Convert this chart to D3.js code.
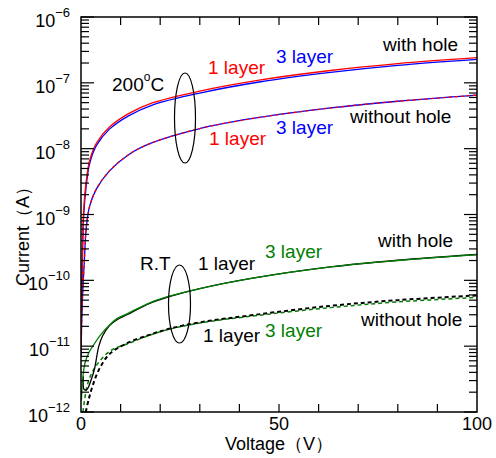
<!DOCTYPE html>
<html>
<head>
<meta charset="utf-8">
<script src="https://cdn.jsdelivr.net/npm/d3@7"></script>
<style>
  body { margin: 0; background: #fff; }
  text { font-family: "Liberation Sans", Arial, sans-serif; }
</style>
</head>
<body>
<div id="chart"></div>
<script>
// ---- data ----
const xTicks = [0, 50, 100];
const yDecades = [-12, -11, -10, -9, -8, -7, -6];

// 200 C, with hole
const hotHole1V = [0.02, 0.1, 0.2, 0.33, 0.67, 1.34, 2.2, 3.9, 7.2, 12, 18, 30, 45, 63, 80, 100];
const hotHole1I = [8e-12, 3e-11, 8e-11, 2e-10, 1.16e-9, 3.3e-9, 6.7e-9, 1.22e-8, 2.13e-8, 3.4e-8, 4.95e-8, 7.5e-8, 1.1e-7, 1.54e-7, 1.96e-7, 2.41e-7];
const hotHole3V = [0.02, 0.1, 0.2, 0.33, 0.67, 1.34, 2.2, 3.9, 7.2, 12, 18, 30, 45, 63, 80, 100];
const hotHole3I = [7e-12, 2.5e-11, 6.5e-11, 1.6e-10, 9.5e-10, 2.8e-9, 6e-9, 1.12e-8, 1.98e-8, 3.15e-8, 4.6e-8, 7e-8, 1.03e-7, 1.44e-7, 1.84e-7, 2.27e-7];
// 200 C, without hole
const hotNo1V = [0.03, 0.15, 0.4, 0.85, 1.34, 2.2, 3.9, 7.2, 12, 17.5, 30, 43, 63, 80, 100];
const hotNo1I = [8e-12, 2e-11, 6e-11, 2e-10, 6.5e-10, 1.35e-9, 2.45e-9, 4.6e-9, 8.1e-9, 1.2e-8, 2.02e-8, 2.85e-8, 4.15e-8, 5.25e-8, 6.5e-8];
const hotNo3V = [0.03, 0.15, 0.4, 0.85, 1.34, 2.2, 3.9, 7.2, 12, 17.5, 30, 43, 63, 80, 100];
const hotNo3I = [8e-12, 2e-11, 6e-11, 2e-10, 6.4e-10, 1.35e-9, 2.45e-9, 4.6e-9, 8.1e-9, 1.2e-8, 2.02e-8, 2.85e-8, 4.15e-8, 5.25e-8, 6.5e-8];
// R.T, with hole
const rtHole1V = [0.6, 0.8, 1.5, 2.5, 3.4, 4.5, 5.5, 7.2, 9, 11.6, 17.5, 22.5, 30, 43, 63, 80, 100];
const rtHole1I = [3.5e-12, 2.2e-12, 2.2e-12, 3e-12, 4.5e-12, 1e-11, 1.45e-11, 2.05e-11, 2.5e-11, 3e-11, 4.5e-11, 5.7e-11, 7.5e-11, 1.07e-10, 1.6e-10, 2.02e-10, 2.47e-10];
const rtHole3V = [0.1, 0.5, 1, 2, 3.2, 5, 7.2, 9, 11.6, 17.5, 22.5, 30, 43, 63, 80, 100];
const rtHole3I = [1.5e-12, 3.5e-12, 5.5e-12, 8e-12, 1.05e-11, 1.5e-11, 2.1e-11, 2.6e-11, 3.1e-11, 4.6e-11, 5.8e-11, 7.5e-11, 1.07e-10, 1.6e-10, 2.0e-10, 2.45e-10];
// R.T, without hole
const rtNo1V = [1.2, 2, 3.2, 4.7, 7.2, 11.5, 17.5, 22.5, 30, 44, 63, 80, 100];
const rtNo1I = [1e-12, 1.6e-12, 2.8e-12, 4.6e-12, 7.6e-12, 1.1e-11, 1.5e-11, 1.85e-11, 2.3e-11, 3.0e-11, 4.1e-11, 5.0e-11, 5.9e-11];
const rtNo3V = [0.5, 1.7, 3.6, 7.4, 12, 17.5, 22.5, 30, 44, 63, 80, 100];
const rtNo3I = [1e-12, 2.7e-12, 4.8e-12, 8.5e-12, 1.1e-11, 1.48e-11, 1.82e-11, 2.25e-11, 2.9e-11, 3.85e-11, 4.7e-11, 5.5e-11];

const series = [
  {v: rtNo3V, i: rtNo3I, color: "#008000", width: 1.5, dash: "4,3"},
  {v: rtNo1V, i: rtNo1I, color: "#000", width: 2, dash: "4,3"},
  {v: rtHole1V, i: rtHole1I, color: "#000", width: 1.3, dash: null},
  {v: rtHole3V, i: rtHole3I, color: "#008000", width: 1.3, dash: null},
  {v: hotNo3V, i: hotNo3I, color: "#0000ff", width: 1.3, dash: null},
  {v: hotNo1V, i: hotNo1I, color: "#ff0000", width: 1.3, dash: "3,3"},
  {v: hotHole3V, i: hotHole3I, color: "#0000ff", width: 1.3, dash: null},
  {v: hotHole1V, i: hotHole1I, color: "#ff0000", width: 1.3, dash: null}
];

// ---- layout ----
const W = 496, H = 458;
const margin = {top: 17, right: 19, bottom: 46, left: 81};
const width = W - margin.left - margin.right;
const height = H - margin.top - margin.bottom;

const svg = d3.select("#chart").append("svg")
  .attr("width", W).attr("height", H);

const g = svg.append("g")
  .attr("transform", "translate(" + margin.left + "," + margin.top + ")");

const x = d3.scaleLinear().domain([0, 100]).range([0, width]);
const y = d3.scaleLog().domain([1e-12, 1e-6]).range([height, 0]);

g.append("clipPath").attr("id", "plotClip")
  .append("rect").attr("width", width).attr("height", height);

// curves
const line = d3.line()
  .x(d => x(d[0]))
  .y(d => y(d[1]))
  .curve(d3.curveCatmullRom.alpha(0.5));

const curves = g.append("g").attr("clip-path", "url(#plotClip)");
series.forEach(s => {
  curves.append("path")
    .datum(s.v.map((v, k) => [v, s.i[k]]))
    .attr("fill", "none")
    .attr("stroke", s.color)
    .attr("stroke-width", s.width)
    .attr("stroke-dasharray", s.dash)
    .attr("d", line);
});

// ---- ticks (all inward) ----
const minorY = [];
for (let e = -12; e < -6; e++) {
  for (let m = 2; m <= 9; m++) minorY.push(m * Math.pow(10, e));
}
const majorY = yDecades.map(e => Math.pow(10, e));
const minorX = d3.range(10, 100, 10);

const ticks = g.append("g").attr("stroke", "#000").attr("stroke-width", 1.2);
// left
ticks.selectAll(".ly").data(minorY).join("line")
  .attr("x1", 0).attr("x2", 8).attr("y1", d => y(d)).attr("y2", d => y(d));
ticks.selectAll(".lY").data(majorY).join("line")
  .attr("x1", 0).attr("x2", 13).attr("y1", d => y(d)).attr("y2", d => y(d));
// right
ticks.selectAll(".ry").data(minorY).join("line")
  .attr("x1", width).attr("x2", width - 8).attr("y1", d => y(d)).attr("y2", d => y(d));
ticks.selectAll(".rY").data(majorY).join("line")
  .attr("x1", width).attr("x2", width - 13).attr("y1", d => y(d)).attr("y2", d => y(d));
// bottom / top
ticks.selectAll(".bx").data(minorX).join("line")
  .attr("x1", d => x(d)).attr("x2", d => x(d)).attr("y1", height).attr("y2", height - 8);
ticks.selectAll(".tx").data(minorX).join("line")
  .attr("x1", d => x(d)).attr("x2", d => x(d)).attr("y1", 0).attr("y2", 8);

// frame
g.append("rect")
  .attr("width", width).attr("height", height)
  .attr("fill", "none").attr("stroke", "#000").attr("stroke-width", 1.5);

// ---- tick labels ----
g.selectAll(".xlab").data(xTicks).join("text")
  .attr("x", d => x(d)).attr("y", height + 18)
  .attr("text-anchor", "middle")
  .style("font-size", "18px")
  .text(d => d);

const ylab = g.selectAll(".ylab").data(yDecades).join("text")
  .attr("x", -11).attr("y", d => y(Math.pow(10, d)) + 10)
  .attr("text-anchor", "end")
  .style("font-size", "18px");
ylab.append("tspan").text("10");
ylab.append("tspan").attr("dy", -10).style("font-size", "13px").text(d => "\u2212" + Math.abs(d));

// axis titles
svg.append("text")
  .attr("x", margin.left + width / 2).attr("y", H - 8)
  .attr("text-anchor", "middle")
  .style("font-size", "18px")
  .text("Voltage\uff08V\uff09");

svg.append("text")
  .attr("transform", "translate(29," + 232 + ") rotate(-90)")
  .attr("text-anchor", "middle")
  .style("font-size", "18px")
  .text("Current\uff08A\uff09");

// ---- annotations ----
const notes = [
  {t: "with hole", x: 383, y: 51, c: "#000"},
  {t: "3 layer", x: 276, y: 63, c: "#0000ff"},
  {t: "1 layer", x: 208, y: 74, c: "#ff0000"},
  {t: "without hole", x: 350, y: 123, c: "#000"},
  {t: "3 layer", x: 276, y: 134, c: "#0000ff"},
  {t: "1 layer", x: 209, y: 145, c: "#ff0000"},
  {t: "with hole", x: 378, y: 247, c: "#000"},
  {t: "3 layer", x: 265, y: 258, c: "#008000"},
  {t: "R.T", x: 140, y: 270, c: "#000"},
  {t: "1 layer", x: 198, y: 270, c: "#000"},
  {t: "without hole", x: 361, y: 326, c: "#000"},
  {t: "3 layer", x: 265, y: 337, c: "#008000"},
  {t: "1 layer", x: 203, y: 342, c: "#000"}
];
svg.selectAll(".note").data(notes).join("text")
  .attr("x", d => d.x).attr("y", d => d.y)
  .attr("fill", d => d.c)
  .style("font-size", "19px")
  .text(d => d.t);

const hot = svg.append("text").attr("x", 112).attr("y", 91).style("font-size", "19px");
hot.append("tspan").text("200");
hot.append("tspan").attr("dy", -10).style("font-size", "12px").text("o");
hot.append("tspan").attr("dy", 10).text("C");

// group ellipses
svg.append("ellipse")
  .attr("cx", 185).attr("cy", 118).attr("rx", 10.5).attr("ry", 45)
  .attr("fill", "none").attr("stroke", "#000").attr("stroke-width", 1.2);
svg.append("ellipse")
  .attr("cx", 179.5).attr("cy", 304).attr("rx", 11).attr("ry", 39)
  .attr("fill", "none").attr("stroke", "#000").attr("stroke-width", 1.2);
</script>
</body>
</html>
